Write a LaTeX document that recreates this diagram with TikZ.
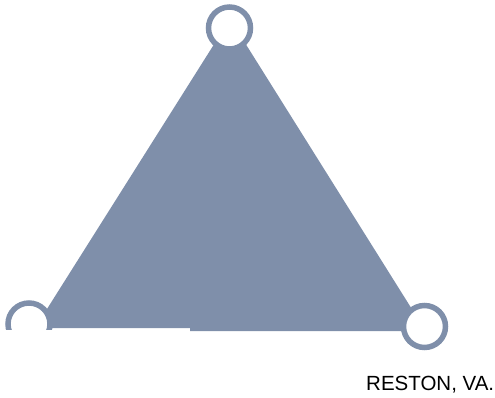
\documentclass[tikz,border=0pt]{standalone}
\usepackage{fontspec}
\setmainfont{Liberation Sans}
\definecolor{slate}{RGB}{127,143,170}
\begin{document}
\begin{tikzpicture}[x=1pt,y=-1pt,
  ring/.style={circle,draw=slate,line width=5.5pt,fill=white,minimum size=42pt,inner sep=0pt}]
\useasboundingbox (0,0) rectangle (495,398);
\fill[slate] (230,19) -- (425,330) -- (425,331) -- (190,331) -- (190,328) -- (35,328) -- cycle;
\node[ring] (top) at (229.5,28) {};
\node[ring] (right) at (424.5,326.5) {};
\begin{scope}
\clip (0,0) rectangle (100,329);
\node[ring] (left) at (29,324) {};
\end{scope}
\node[anchor=west,inner sep=0pt,font=\fontsize{20.5}{23}\selectfont] (lbl) at (366,385) {RESTON, VA.};
\end{tikzpicture}
\end{document}
